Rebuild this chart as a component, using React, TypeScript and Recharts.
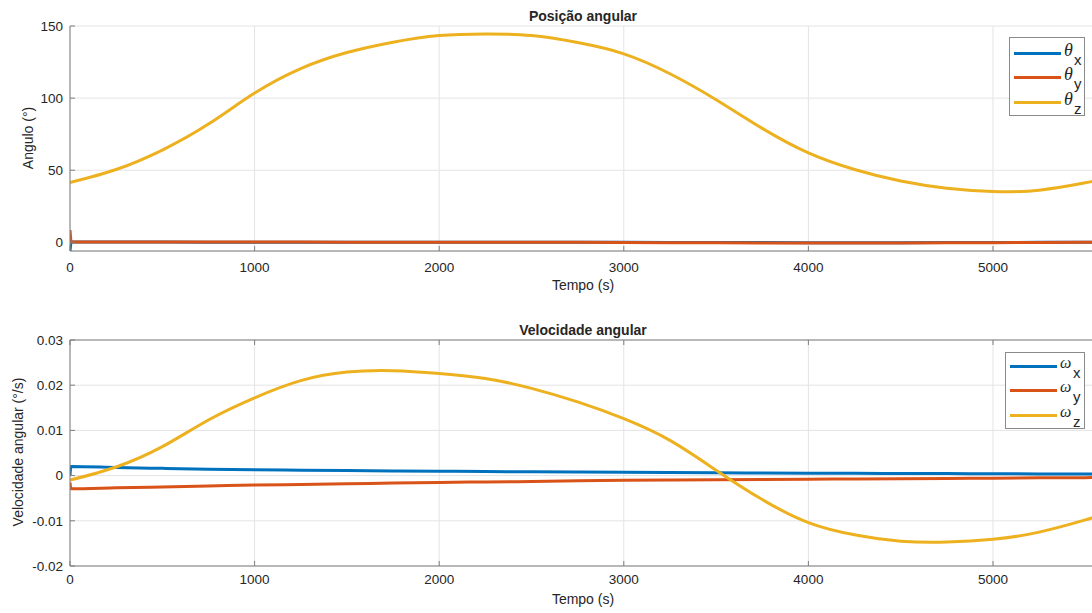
import React from 'react';
import { LineChart, Line, XAxis, YAxis, CartesianGrid, Legend } from 'recharts';

// time samples (s)
const time = [0, 5, 250, 500, 750, 1000, 1250, 1500, 1750, 2000, 2250, 2500, 2750, 3000, 3250, 3500, 3750, 4000, 4250, 4500, 4750, 5000, 5250, 5500, 5560];

// angular position (deg); null = no reading at that sample
const thetaX = [-6, 0.2, 0.2, 0.2, 0.1, 0.1, 0.1, 0.1, 0.1, 0, 0, 0, 0, 0, -0.1, -0.1, -0.1, -0.2, -0.2, -0.2, -0.1, -0.1, 0, 0, 0];
const thetaY = [8.5, 0.3, 0.3, 0.3, 0.2, 0.2, 0.2, 0.1, 0.1, 0, 0, 0, 0, -0.1, -0.2, -0.3, -0.4, -0.5, -0.5, -0.4, -0.3, -0.2, -0.1, 0, 0];
const thetaZ = [41.5, null, 50.5, 64.0, 82.0, 103.5, 120.5, 131.6, 138.8, 143.4, 144.5, 143.4, 138.5, 130.7, 116.9, 98.9, 79.0, 62.0, 50.5, 42.5, 37.5, 35.2, 36.2, 41.3, 43.0];

// angular velocity (deg/s)
const omegaX = [0, 0.002, 0.0018, 0.0016, 0.0014, 0.00128, 0.0012, 0.00112, 0.00104, 0.00097, 0.0009, 0.00084, 0.00078, 0.00072, 0.00067, 0.00062, 0.00058, 0.00054, 0.0005, 0.00047, 0.00044, 0.00041, 0.00038, 0.00035, 0.00034];
const omegaY = [-0.0015, -0.0029, -0.0027, -0.0025, -0.0023, -0.0021, -0.00195, -0.0018, -0.00165, -0.0015, -0.0014, -0.0013, -0.00115, -0.00105, -0.00098, -0.00092, -0.00086, -0.0008, -0.00074, -0.00068, -0.00062, -0.00056, -0.0005, -0.00045, -0.00044];
const omegaZ = [-0.001, null, 0.0019, 0.0064, 0.0123, 0.0172, 0.021, 0.0229, 0.0232, 0.0226, 0.0215, 0.0193, 0.0163, 0.0126, 0.0078, 0.0012, -0.0053, -0.0104, -0.0131, -0.0145, -0.0147, -0.0141, -0.0125, -0.0098, -0.009];

const xTicks = [0, 1000, 2000, 3000, 4000, 5000];
const posTicks = [0, 50, 100, 150];
const velTicks = [-0.02, -0.01, 0, 0.01, 0.02, 0.03];
const subs = ['x', 'y', 'z'];

const COLORS = ['#0072BD', '#D95319', '#EDB120'];
const AXIS = '#7f7f7f';
const GRID = '#e4e4e4';
const TEXT = '#262626';

const posData = time.map((t, i) => ({ t, x: thetaX[i], y: thetaY[i], z: thetaZ[i] }));
const velData = time.map((t, i) => ({ t, x: omegaX[i], y: omegaY[i], z: omegaZ[i] }));

const tickStyle = { fill: TEXT, fontSize: 13.5 };

const makeLegend = (sym: string, w: number, h: number, c0: number, symDy: number, symSize: number, subLeft: number) => () => (
  <div style={{ position: 'relative', width: w, height: h, border: '1px solid #8a8a8a', background: '#fff', boxSizing: 'border-box' }}>
    {subs.map((s, i) => {
      const c = c0 + i * 24.75;
      return (
        <React.Fragment key={s}>
          <div style={{ position: 'absolute', left: 4, top: c - 1.5, width: 47, height: 3, background: COLORS[i] }} />
          <span style={{ position: 'absolute', left: 54, top: c + symDy - symSize * 0.85, fontFamily: '"Liberation Serif", "DejaVu Serif", serif', fontStyle: 'italic', fontSize: symSize, lineHeight: `${symSize}px`, color: TEXT }}>{sym}</span>
          <span style={{ position: 'absolute', left: subLeft, top: c + 11 - 12.5, fontSize: 15, lineHeight: '15px', color: TEXT }}>{s}</span>
        </React.Fragment>
      );
    })}
  </div>
);

const Label = ({ x, y, text, bold, rotate }: { x: number; y: number; text: string; bold?: boolean; rotate?: boolean }) => (
  <div style={{ position: 'absolute', left: x, top: y, transform: `translate(-50%, -50%)${rotate ? ' rotate(-90deg)' : ''}`, whiteSpace: 'nowrap', fontSize: 14, fontWeight: bold ? 'bold' : 'normal', color: TEXT, lineHeight: '16px' }}>
    {text}
  </div>
);

const App = () => {
  return (
    <div style={{ position: 'fixed', left: 0, top: 0, width: 1092, height: 613, overflow: 'hidden', background: '#fff', fontFamily: '"Liberation Sans", Arial, sans-serif' }}>
      <div style={{ position: 'absolute', left: 0, top: 0 }}>
        <LineChart width={1100} height={300} data={posData} margin={{ top: 26, right: 4, bottom: 19, left: 10 }}>
          <CartesianGrid stroke={GRID} />
          <XAxis dataKey="t" type="number" domain={[0, 5558]} allowDataOverflow ticks={xTicks} interval={0} height={30}
            tick={tickStyle} tickSize={-5} tickMargin={16} stroke={AXIS} />
          <YAxis type="number" domain={[-6, 150]} allowDataOverflow ticks={posTicks} interval={0} width={60}
            tick={tickStyle} tickSize={-5} tickMargin={12} stroke={AXIS} />
          <Legend layout="vertical" align="center" verticalAlign="middle" content={makeLegend('θ', 76, 79, 15, 3, 18, 64)}
            wrapperStyle={{ left: 1009, top: 37, width: 'auto', height: 'auto' }} />
          <Line dataKey="x" type="linear" stroke={COLORS[0]} strokeWidth={3} dot={false} isAnimationActive={false} />
          <Line dataKey="y" type="linear" stroke={COLORS[1]} strokeWidth={3} dot={false} isAnimationActive={false} />
          <Line dataKey="z" type="natural" connectNulls stroke={COLORS[2]} strokeWidth={3} dot={false} isAnimationActive={false} />
        </LineChart>
      </div>
      <div style={{ position: 'absolute', left: 0, top: 300 }}>
        <LineChart width={1100} height={313} data={velData} margin={{ top: 39, right: 4, bottom: 17, left: 10 }}>
          <CartesianGrid stroke={GRID} />
          <XAxis dataKey="t" type="number" domain={[0, 5558]} allowDataOverflow ticks={xTicks} interval={0} height={30}
            tick={tickStyle} tickSize={-5} tickMargin={13} stroke={AXIS} />
          <XAxis xAxisId="top" orientation="top" dataKey="t" type="number" domain={[0, 5558]} allowDataOverflow ticks={xTicks} interval={0} height={1}
            tickFormatter={() => ''} tickSize={-5} stroke={AXIS} />
          <YAxis type="number" domain={[-0.02, 0.03]} allowDataOverflow ticks={velTicks} interval={0} width={60}
            tick={tickStyle} tickSize={-5} tickMargin={12} stroke={AXIS} />
          <Legend layout="vertical" align="center" verticalAlign="middle" content={makeLegend('ω', 80, 77, 13, 2.3, 16, 67)}
            wrapperStyle={{ left: 1005, top: 52, width: 'auto', height: 'auto' }} />
          <Line dataKey="x" type="monotone" stroke={COLORS[0]} strokeWidth={3} dot={false} isAnimationActive={false} />
          <Line dataKey="y" type="monotone" stroke={COLORS[1]} strokeWidth={3} dot={false} isAnimationActive={false} />
          <Line dataKey="z" type="natural" connectNulls stroke={COLORS[2]} strokeWidth={3} dot={false} isAnimationActive={false} />
        </LineChart>
      </div>
      <Label x={583} y={16} text="Posição angular" bold />
      <Label x={583} y={285} text="Tempo (s)" />
      <Label x={28} y={138} text="Angulo (°)" rotate />
      <Label x={583} y={330} text="Velocidade angular" bold />
      <Label x={583} y={599} text="Tempo (s)" />
      <Label x={18} y={452} text="Velocidade angular (°/s)" rotate />
    </div>
  );
};

export default App;
